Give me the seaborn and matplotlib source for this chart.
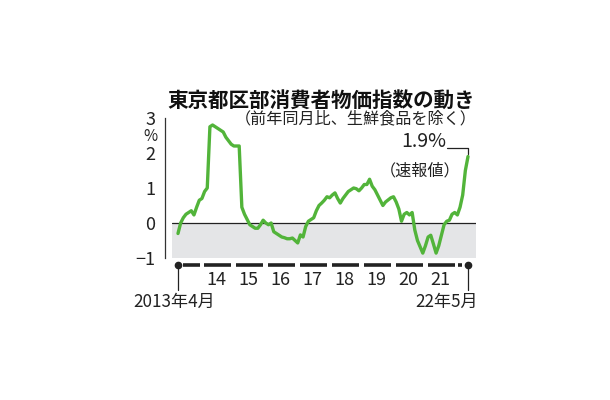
import pandas as pd
import numpy as np
import matplotlib
matplotlib.use('Agg')
import matplotlib.pyplot as plt
import seaborn as sns

# du lieu: chi so gia tieu dung Tokyo (so voi cung ky nam truoc, %)
months = pd.date_range('2013-04-01', '2022-05-01', freq='MS')
values = [
    -0.3, 0.0, 0.15, 0.25, 0.3, 0.35, 0.23, 0.45, 0.65, 0.7, 0.9, 1.0,     # 2013/4 - 2014/3
    2.75, 2.8, 2.75, 2.7, 2.65, 2.6, 2.45, 2.35, 2.25, 2.2, 2.2, 2.2,      # 2014/4 - 2015/3
    0.45, 0.25, 0.1, -0.05, -0.1, -0.15, -0.15, -0.05, 0.08, 0.0, -0.05, 0.0,
    -0.25, -0.3, -0.35, -0.4, -0.42, -0.45, -0.45, -0.43, -0.5, -0.57, -0.34, -0.4,
    -0.1, 0.05, 0.1, 0.15, 0.35, 0.5, 0.57, 0.65, 0.75, 0.72, 0.8, 0.86,
    0.7, 0.57, 0.7, 0.8, 0.9, 0.95, 1.0, 0.98, 0.92, 1.0, 1.1, 1.1,
    1.25, 1.05, 0.95, 0.8, 0.65, 0.5, 0.6, 0.66, 0.72, 0.75, 0.6, 0.4,
    0.05, 0.25, 0.3, 0.23, 0.3, -0.2, -0.5, -0.68, -0.86, -0.65, -0.4, -0.35,
    -0.6, -0.86, -0.65, -0.35, -0.05, 0.05, 0.08, 0.25, 0.3, 0.23, 0.45, 0.8,
    1.5, 1.9,
]
year_labels = ['14', '15', '16', '17', '18', '19', '20', '21']
y_ticks = [-1, 0, 1, 2, 3]

df = pd.DataFrame({'month': months, 'value': values})
df['pos'] = np.arange(len(df))

sns.set_style('white')
plt.rcParams['font.family'] = ['Noto Sans CJK JP', 'DejaVu Sans']
plt.rcParams['axes.unicode_minus'] = False

green = '#52b43a'
ink = '#222222'
fig = plt.figure(figsize=(6.1, 4.0), dpi=100)
ax = fig.add_axes([172 / 610, 1 - 258 / 400, (476 - 172) / 610, (258 - 118) / 400])

x0, x1 = -2.25, 112.0
ax.set_xlim(x0, x1)
ax.set_ylim(-1, 3)

# vung am mau xam va duong 0
ax.axhspan(-1, 0, color='#e4e5e7', lw=0, zorder=0)
ax.axhline(0, color=ink, lw=0.9, zorder=1)

sns.lineplot(x='pos', y='value', data=df, color=green, linewidth=2.4, ax=ax, zorder=3)

# truc y
for s in ['top', 'right', 'bottom']:
    ax.spines[s].set_visible(False)
ax.spines['left'].set_position(('outward', 5))
ax.spines['left'].set_color('#333333')
ax.spines['left'].set_linewidth(0.9)
ax.set_yticks(y_ticks)
ax.set_yticklabels(['−1', '0', '1', '2', '3'])
ax.set_yticks([-1, 3], minor=True)
ax.tick_params(axis='y', which='major', length=0, pad=7, labelsize=13, colors=ink)
ax.tick_params(axis='y', which='minor', length=4, width=0.9, color='#333333', direction='out')
ax.set_xticks([])
ax.set_xlabel('')
ax.set_ylabel('')
ax.text(-0.07, 0.87, '%', transform=ax.transAxes, ha='center', va='center',
        fontsize=11, color=ink)

# tieu de
fig.text(475 / 610, 1 - 100 / 400, '東京都区部消費者物価指数の動き', ha='right', va='center',
         fontsize=14.8, fontweight='bold', color='#111111')
fig.text(477 / 610, 1 - 119 / 400, '（前年同月比、生鮮食品を除く）', ha='right', va='center',
         fontsize=11.6, color=ink)

# chu thich diem cuoi
last = len(df) - 1
ax.text(last - 8.2, 2.03, '1.9%', ha='right', va='bottom', fontsize=14, color=ink)
ax.text(last - 2.8, 1.5, '（速報値）', ha='right', va='center', fontsize=11.6, color=ink)
ax.plot([last - 8, last, last], [2.14, 2.14, 1.97], color=ink, lw=0.9, clip_on=False)

# truc thoi gian phia duoi
ty = -1.2
year_start = [i for i, m in enumerate(months) if m.month == 1]
ax.plot([1.9, 8.3], [ty, ty], color=ink, lw=2.6, solid_capstyle='butt', clip_on=False)
for s in year_start[:-1]:
    ax.plot([s + 0.9, s + 11.1], [ty, ty], color=ink, lw=2.6, solid_capstyle='butt', clip_on=False)
ax.plot([year_start[-1] + 0.4, year_start[-1] + 1.9], [ty, ty], color=ink, lw=2.6,
        solid_capstyle='butt', clip_on=False)
ax.plot([0, last], [ty, ty], 'o', color=ink, ms=4.5, clip_on=False)
for s, lab in zip(year_start[:-1], year_labels):
    ax.text(s + 5.6, -1.63, lab, ha='center', va='center', fontsize=13, color=ink)
ax.plot([0, 0], [ty, -1.92], color=ink, lw=0.9, clip_on=False)
ax.plot([last, last], [ty, -1.92], color=ink, lw=0.9, clip_on=False)
ax.text(-1.5, -2.26, '2013年4月', ha='center', va='center', fontsize=12.3, color=ink)
ax.text(last + 3.8, -2.26, '22年5月', ha='right', va='center', fontsize=12.3, color=ink)

fig.savefig('out.png', dpi=100)
